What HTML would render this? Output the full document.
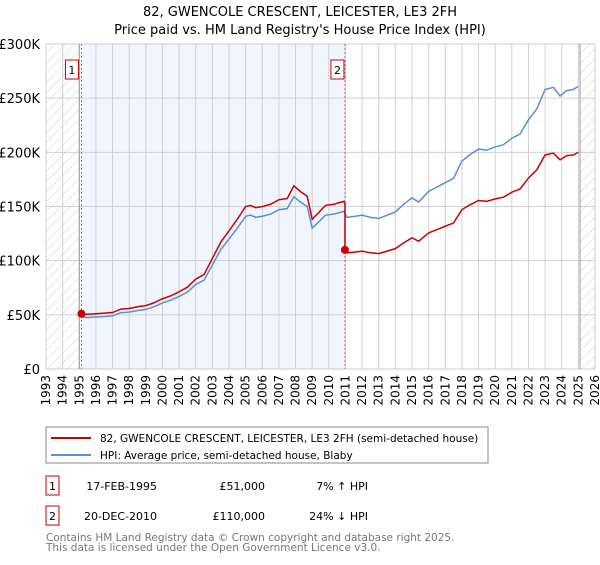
<!DOCTYPE html>
<html><head><meta charset="utf-8"><style>
body{margin:0;background:#fff;font-family:"Liberation Sans","DejaVu Sans",sans-serif;}
svg text{font-family:"DejaVu Sans","Liberation Sans",sans-serif;}
</style></head><body>
<svg id="c" width="600" height="560" xmlns="http://www.w3.org/2000/svg">
<defs><pattern id="hatch" width="7" height="7" patternUnits="userSpaceOnUse" patternTransform="rotate(45)"><line x1="0" y1="0" x2="0" y2="7" stroke="#d4d4d4" stroke-width="1"/></pattern></defs>
<text x="300" y="16" text-anchor="middle" font-size="13">82, GWENCOLE CRESCENT, LEICESTER, LE3 2FH</text>
<text x="300" y="34" text-anchor="middle" font-size="13">Price paid vs. HM Land Registry's House Price Index (HPI)</text>
<g id="plot"></g>
<rect x="46" y="427" width="442" height="36" fill="#fff" stroke="#888"/>
<line x1="51" y1="438" x2="91" y2="438" stroke="#cc0000" stroke-width="2"/>
<text x="100" y="442" font-size="10.5">82, GWENCOLE CRESCENT, LEICESTER, LE3 2FH (semi-detached house)</text>
<line x1="51" y1="455" x2="91" y2="455" stroke="#5b8fd4" stroke-width="2"/>
<text x="100" y="459" font-size="10.5">HPI: Average price, semi-detached house, Blaby</text>
<g>
<rect x="46" y="476" width="13" height="19" fill="#fff" stroke="#cc0000"/><text x="52.5" y="490" text-anchor="middle" font-size="11">1</text>
<text x="157" y="490" text-anchor="end" font-size="11">17-FEB-1995</text>
<text x="265" y="490" text-anchor="end" font-size="11">£51,000</text>
<text x="368" y="490" text-anchor="end" font-size="11">7% ↑ HPI</text></g>
<g>
<rect x="46" y="506" width="13" height="19" fill="#fff" stroke="#cc0000"/><text x="52.5" y="520" text-anchor="middle" font-size="11">2</text>
<text x="157" y="520" text-anchor="end" font-size="11">20-DEC-2010</text>
<text x="265" y="520" text-anchor="end" font-size="11">£110,000</text>
<text x="368" y="520" text-anchor="end" font-size="11">24% ↓ HPI</text></g>
<text x="46" y="541" font-size="10.5" fill="#777">Contains HM Land Registry data © Crown copyright and database right 2025.</text>
<text x="46" y="551" font-size="10.5" fill="#777">This data is licensed under the Open Government Licence v3.0.</text>
</svg>
<script>
const hpiYears=[1995.1,1995.5,1996,1996.5,1997,1997.5,1998,1998.5,1999,1999.5,2000,2000.5,2001,2001.5,2002,2002.5,2003,2003.5,2004,2004.5,2005,2005.3,2005.6,2006,2006.5,2007,2007.5,2007.9,2008.3,2008.7,2009.0,2009.4,2009.8,2010.3,2010.9,2011.1,2011.6,2012,2012.5,2013,2013.5,2014,2014.5,2015,2015.4,2016,2016.5,2017,2017.5,2018,2018.5,2019,2019.5,2020,2020.5,2021,2021.5,2022,2022.5,2023,2023.5,2023.9,2024.3,2024.7,2025.0];
const hpiValues=[48000,47500,48000,48500,49000,52000,52500,54000,55000,57500,61000,63500,67000,71000,78000,82000,96000,110000,120000,130000,141000,142000,140000,141000,143000,147000,148000,159000,154000,150000,130000,136000,142000,143000,145500,140000,141000,142000,140000,139000,142000,145000,152000,158000,154000,164000,168000,172000,176000,192000,198000,203000,202000,205000,207000,213000,217000,230000,240000,258000,260000,252000,257000,258000,261000];
const saleYears=[1995.13,2010.97];
const salePrices=[51000,110000];
const yTicks=[0,50000,100000,150000,200000,250000,300000];
const yTickLabels=["£0","£50K","£100K","£150K","£200K","£250K","£300K"];
const xTickYears=[];for(let y=1993;y<=2026;y++)xTickYears.push(y);

const L=46,R=595,T=44,B=369,X0=1993,X1=2026,YMAX=300000;
const xs=v=>L+(v-X0)/(X1-X0)*(R-L);
const ys=v=>B-v/YMAX*(B-T);
const NS="http://www.w3.org/2000/svg";
const g=document.getElementById('plot');
function mk(tag,attrs){const e=document.createElementNS(NS,tag);for(const k in attrs)e.setAttribute(k,attrs[k]);g.appendChild(e);return e;}
function hpiAt(t){if(t<=hpiYears[0])return hpiValues[0];for(let i=1;i<hpiYears.length;i++){if(t<=hpiYears[i]){const f=(t-hpiYears[i-1])/(hpiYears[i]-hpiYears[i-1]);return hpiValues[i-1]+f*(hpiValues[i]-hpiValues[i-1]);}}return hpiValues[hpiValues.length-1];}

let e;
e=mk('rect',{x:L,y:T,width:R-L,height:B-T,fill:'#fff'});


e=mk('rect',{x:xs(saleYears[0]),y:T,width:xs(saleYears[1])-xs(saleYears[0]),height:B-T,fill:'#eef3fd',opacity:0.8});


e=mk('rect',{x:L,y:T,width:xs(1995)-L,height:B-T,fill:'url(#hatch)'});


e=mk('rect',{x:xs(2025.1),y:T,width:R-xs(2025.1),height:B-T,fill:'url(#hatch)'});


xTickYears.forEach(y=>{
 e=mk('line',{x1:xs(y),x2:xs(y),y1:T,y2:B,stroke:'#d0d0d0','stroke-width':1});
 
 
 e=mk('text',{x:0,y:0,'font-size':12,'text-anchor':'end',transform:`translate(${xs(y)+4},${B+6}) rotate(-90)`});
 e.textContent=y;
 
 
});
yTicks.forEach((v,i)=>{
 e=mk('line',{x1:L,x2:R,y1:ys(v),y2:ys(v),stroke:'#d0d0d0','stroke-width':1});
 
 
 e=mk('text',{x:L-6,y:ys(v)+5,'font-size':13,'text-anchor':'end'});
 e.textContent=yTickLabels[i];
 
 
});
e=mk('rect',{x:L,y:T,width:R-L,height:B-T,fill:'none',stroke:'#ccc'});


e=mk('line',{x1:xs(1995),x2:xs(1995),y1:T,y2:B,stroke:'#999'});


e=mk('line',{x1:xs(2025.1),x2:xs(2025.1),y1:T,y2:B,stroke:'#999'});


saleYears.forEach((s,i)=>{
 e=mk('line',{x1:xs(s),x2:xs(s),y1:T,y2:B,stroke:'#e06060','stroke-dasharray':'2,2'});
 
 
 const bx=xs(s)+(i===0?-10:-8);
 e=mk('rect',{x:bx-6,y:60,width:13,height:19,fill:'#fff',stroke:'#cc0000'});
 
 
 e=mk('text',{x:bx+0.5,y:74,'font-size':11,'text-anchor':'middle'});
 e.textContent=String(i+1);
 
 
});
e=mk('polyline',{points:hpiYears.map((t,i)=>xs(t)+','+ys(hpiValues[i])).join(' '),fill:'none',stroke:'#5b8fd4','stroke-width':1.5});


const pts=[];
let jumped=false;
hpiYears.forEach((t,idx)=>{
 if(t<saleYears[0])return;
 const k=t<saleYears[1]?0:1;
 if(k===1&&!jumped){const r0=salePrices[0]/hpiAt(saleYears[0]);pts.push([saleYears[1],hpiAt(saleYears[1])*r0]);pts.push([saleYears[1],salePrices[1]]);jumped=true;}
 const r=salePrices[k]/hpiAt(saleYears[k]);
 pts.push([t,hpiValues[idx]*r]);
});
pts.unshift([saleYears[0],salePrices[0]]);
e=mk('polyline',{points:pts.map(p=>xs(p[0])+','+ys(p[1])).join(' '),fill:'none',stroke:'#cc0000','stroke-width':1.5});


saleYears.forEach((s,i)=>{
 e=mk('circle',{cx:xs(s),cy:ys(salePrices[i]),r:4,fill:'#cc0000'});
 
 
});
</script>
</body></html>
